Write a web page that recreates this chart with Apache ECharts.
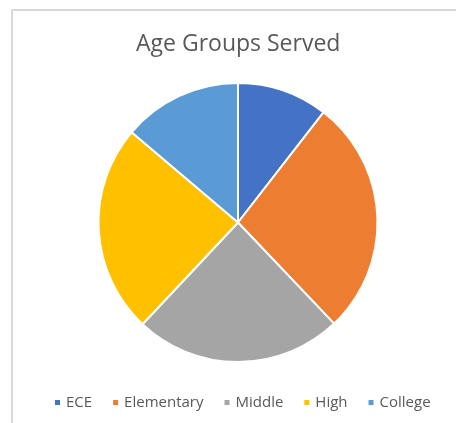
<!DOCTYPE html>
<html>
<head>
<meta charset="utf-8">
<script src="https://cdn.jsdelivr.net/npm/echarts@6/dist/echarts.min.js"></script>
<style>
html,body{margin:0;padding:0;background:#fff;}
#chart{width:456px;height:423px;}
</style>
</head>
<body>
<div id="chart"></div>
<script>
var categories = ['ECE', 'Elementary', 'Middle', 'High', 'College'];
var values = [10.5, 27.4, 24.1, 24.2, 13.8];
var colors = ['#4472C4', '#ED7D31', '#A5A5A5', '#FFC000', '#5B9BD5'];

var chartDom = document.getElementById('chart');
var myChart = echarts.init(chartDom);
var option;

option = {
    animation: false,
    title: {
        text: 'Age Groups Served',
        left: 131,
        top: 28,
        textStyle: {
            fontFamily: 'Open Sans',
            fontSize: 23,
            fontWeight: 'normal',
            color: '#595959'
        }
    },
    legend: {
        bottom: 8,
        left: 48,
        icon: 'rect',
        itemWidth: 7,
        itemHeight: 7,
        itemGap: 19,
        textStyle: {
            fontFamily: 'Open Sans',
            fontSize: 15,
            color: '#595959'
        },
        data: categories
    },
    graphic: [{
        type: 'rect',
        shape: {x: 12, y: 10, width: 600, height: 600},
        style: {fill: 'none', stroke: '#d9d9d9', lineWidth: 2},
        silent: true
    }],
    series: [{
        type: 'pie',
        center: [238, 222.5],
        radius: 139.5,
        startAngle: 90,
        clockwise: true,
        label: {show: false},
        labelLine: {show: false},
        itemStyle: {borderColor: '#fff', borderWidth: 2},
        emphasis: {disabled: true},
        data: categories.map(function (c, i) {
            return {name: c, value: values[i], itemStyle: {color: colors[i]}};
        })
    }]
};

option && myChart.setOption(option);
</script>
</body>
</html>
